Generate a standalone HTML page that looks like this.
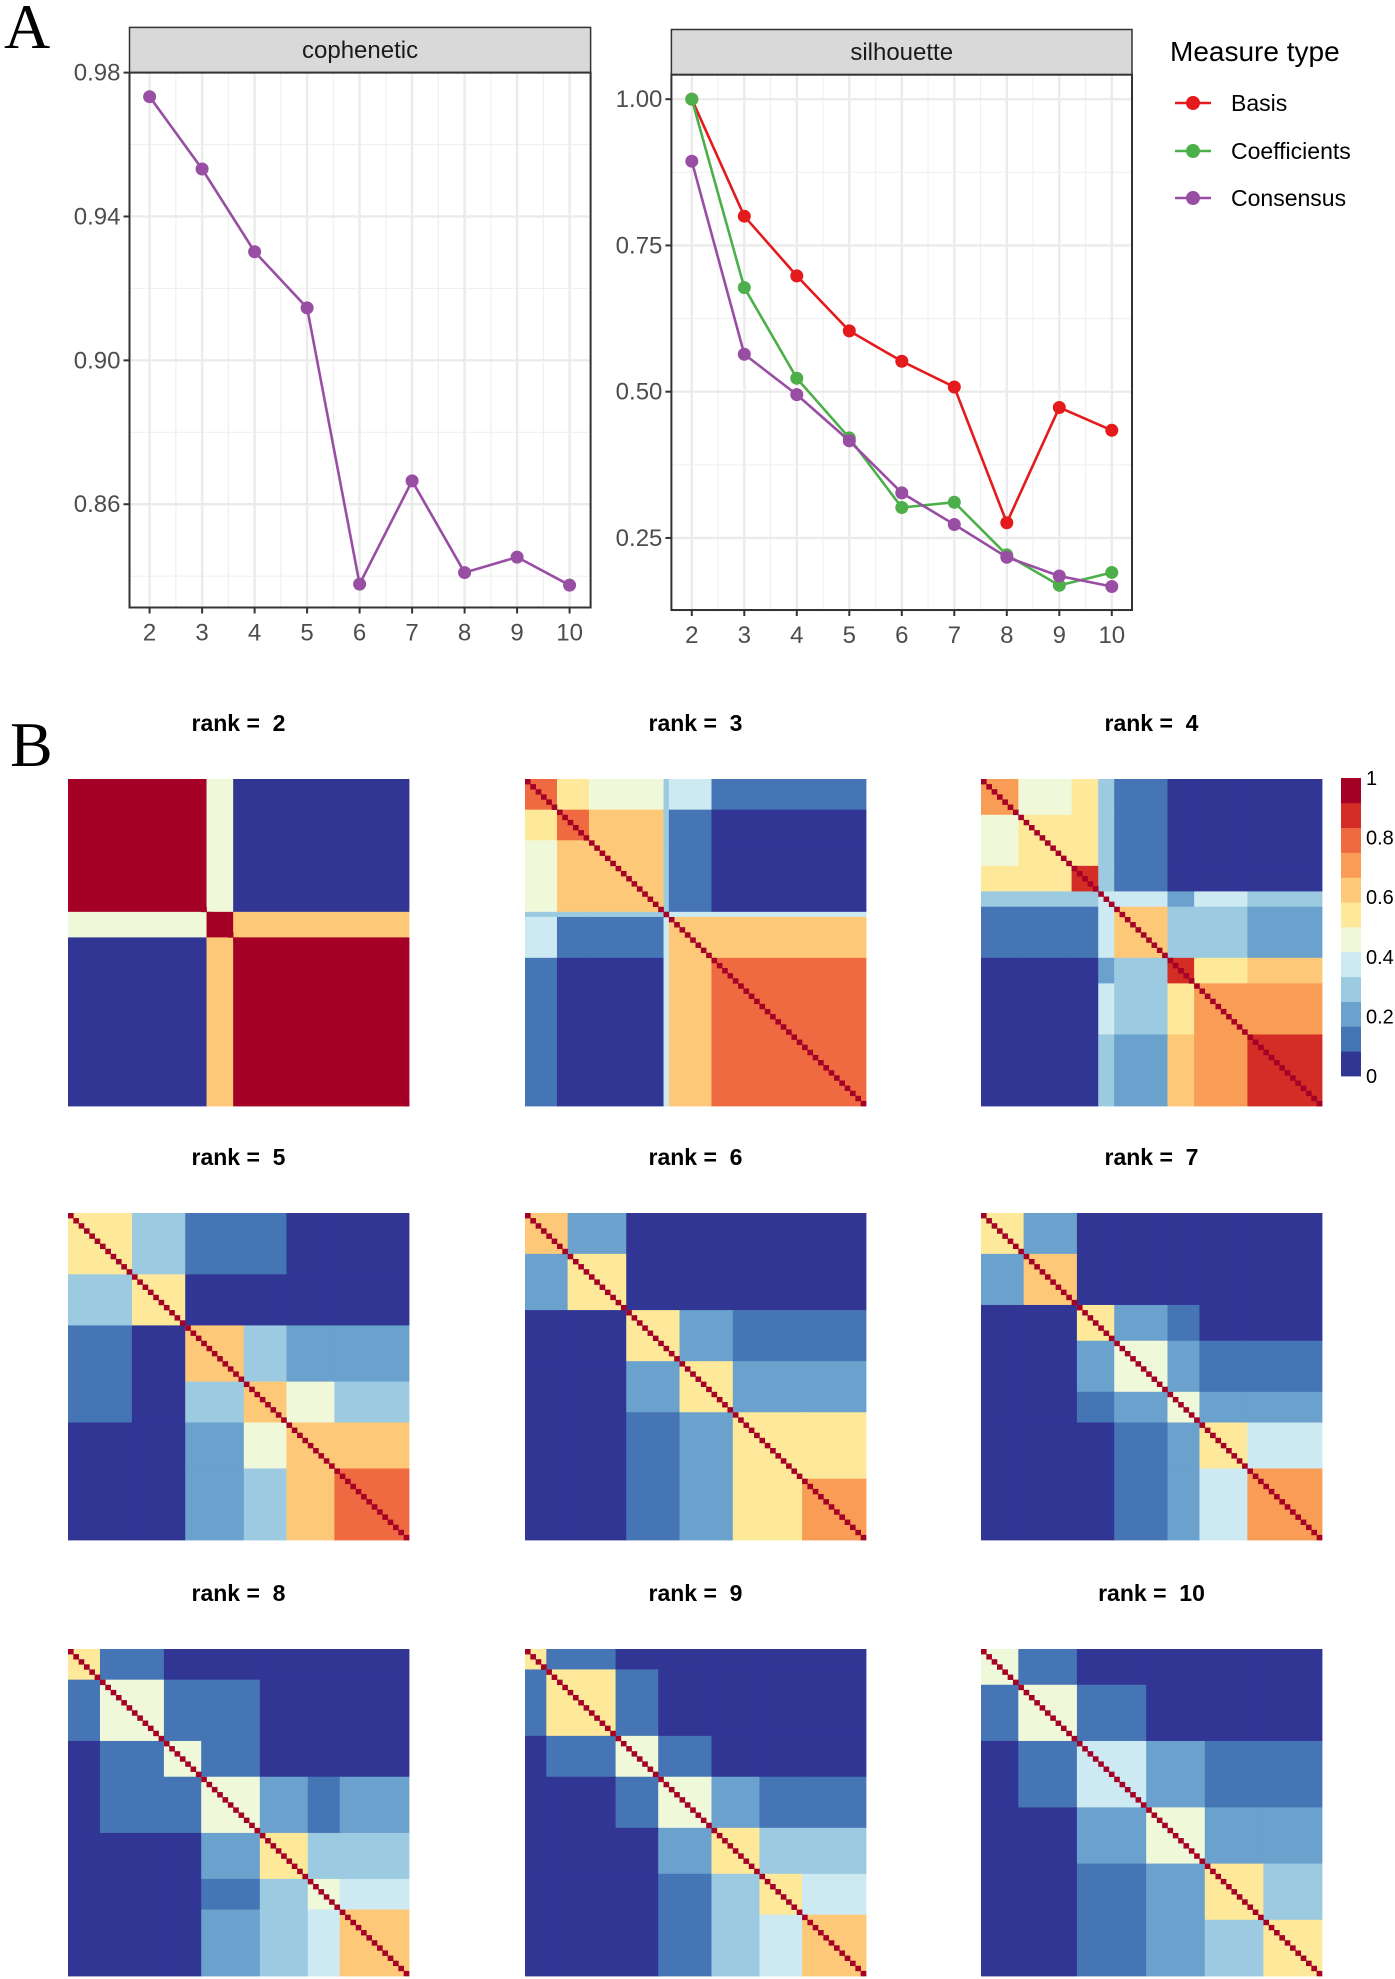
<!DOCTYPE html>
<html><head><meta charset="utf-8"><style>
html,body{margin:0;padding:0;background:#fff;}
svg{display:block;}
text{font-family:"Liberation Sans",sans-serif;}
</style></head><body>
<svg id="fig" width="1395" height="1979" viewBox="0 0 1395 1979" xmlns="http://www.w3.org/2000/svg">
<text x="4" y="48" style="font-family:'Liberation Serif',serif" font-size="64" fill="#000">A</text>
<text x="10" y="766" style="font-family:'Liberation Serif',serif" font-size="64" fill="#000">B</text>
<g id="lines"></g>
<g id="legend">
<text x="1170" y="61" font-size="28" fill="#000">Measure type</text>
</g>
<g id="heat"></g>
<g id="cbar"></g>
</svg>
<script>
const NS="http://www.w3.org/2000/svg";
function mk(tag,attrs,parent){const e=document.createElementNS(NS,tag);for(const k in attrs)e.setAttribute(k,attrs[k]);parent.appendChild(e);return e;}

// ---- line chart data ----
const ranks=[2,3,4,5,6,7,8,9,10];
const cophenetic=[0.9733,0.9532,0.9302,0.9146,0.8378,0.8665,0.8410,0.8453,0.8375];
const basis=[1.000,0.800,0.698,0.604,0.552,0.508,0.276,0.473,0.434];
const coefficients=[1.000,0.678,0.523,0.421,0.302,0.311,0.221,0.169,0.191];
const consensus=[0.894,0.564,0.495,0.416,0.327,0.273,0.217,0.185,0.167];
const copheneticTicks=[0.98,0.94,0.90,0.86];
const copheneticTickLabels=["0.98","0.94","0.90","0.86"];
const silhouetteTicks=[1.00,0.75,0.50,0.25];
const silhouetteTickLabels=["1.00","0.75","0.50","0.25"];
const seriesNames=["Basis","Coefficients","Consensus"];
const seriesColors=["#e41a1c","#4daf4a","#984ea3"];

const L=document.getElementById('lines');
function panel(cfg){
  const {x0,x1,st,pt,pb,title,xs,ys,ticks,tickLabels,minor,name}=cfg;
  const g=mk('g',{},L);
  
  
  mk('rect',{x:x0,y:pt,width:x1-x0,height:pb-pt,fill:'#fff'},g);
  minor.forEach(v=>{mk('line',{x1:x0,x2:x1,y1:ys(v),y2:ys(v),stroke:'#f0f0f0','stroke-width':1.2},g);});
  ranks.forEach((k,i)=>{if(i<ranks.length-1){const xm=(xs(k)+xs(ranks[i+1]))/2;mk('line',{x1:xm,x2:xm,y1:pt,y2:pb,stroke:'#f0f0f0','stroke-width':1.2},g);}});
  ticks.forEach(v=>{mk('line',{x1:x0,x2:x1,y1:ys(v),y2:ys(v),stroke:'#ebebeb','stroke-width':2.4},g);});
  ranks.forEach(k=>{mk('line',{x1:xs(k),x2:xs(k),y1:pt,y2:pb,stroke:'#ebebeb','stroke-width':2.4},g);});
  const s=mk('rect',{x:x0,y:st,width:x1-x0,height:pt-st,fill:'#d9d9d9',stroke:'#333','stroke-width':1.5},g);
  
  
  const t=mk('text',{x:(x0+x1)/2,y:(st+pt)/2+8,'text-anchor':'middle','font-size':24,fill:'#1a1a1a'},g);
  t.textContent=title;
  
  
  mk('rect',{x:x0,y:pt,width:x1-x0,height:pb-pt,fill:'none',stroke:'#333','stroke-width':2},g);
  ticks.forEach((v,i)=>{
    mk('line',{x1:x0-6,x2:x0,y1:ys(v),y2:ys(v),stroke:'#333','stroke-width':2},g);
    const tl=mk('text',{x:x0-9,y:ys(v)+8,'text-anchor':'end','font-size':24,fill:'#4d4d4d'},g);
    tl.textContent=tickLabels[i];
    
    
  });
  ranks.forEach(k=>{
    mk('line',{x1:xs(k),x2:xs(k),y1:pb,y2:pb+6,stroke:'#333','stroke-width':2},g);
    const tl=mk('text',{x:xs(k),y:pb+33,'text-anchor':'middle','font-size':24,fill:'#4d4d4d'},g);
    tl.textContent=String(k);
    
    
  });
  return g;
}
function series(g,xs,ys,vals,color,name){
  const pts=vals.map((v,i)=>xs(ranks[i])+','+ys(v)).join(' ');
  const pl=mk('polyline',{points:pts,fill:'none',stroke:color,'stroke-width':2.6},g);
  
  
  vals.forEach((v,i)=>{
    const c=mk('circle',{cx:xs(ranks[i]),cy:ys(v),r:6.5,fill:color},g);
    
    
  });
}
const cxs=k=>149.6+(k-2)*52.5;
const cys=v=>72.6+(0.98-v)*3597;
const g1=panel({x0:129.5,x1:590.6,st:27.4,pt:72.6,pb:607.5,title:'cophenetic',xs:cxs,ys:cys,ticks:copheneticTicks,tickLabels:copheneticTickLabels,minor:[0.96,0.92,0.88,0.84],name:'cophenetic'});
series(g1,cxs,cys,cophenetic,'#984ea3','cophenetic');
const sxs=k=>691.8+(k-2)*52.5;
const sys=v=>99.2+(1-v)*585;
const g2=panel({x0:671.4,x1:1132,st:29.5,pt:74.7,pb:610,title:'silhouette',xs:sxs,ys:sys,ticks:silhouetteTicks,tickLabels:silhouetteTickLabels,minor:[0.875,0.625,0.375,0.125],name:'silhouette'});
series(g2,sxs,sys,basis,seriesColors[0],'basis');
series(g2,sxs,sys,coefficients,seriesColors[1],'coefficients');
series(g2,sxs,sys,consensus,seriesColors[2],'consensus');
const LG=document.getElementById('legend');
const legendY=[103,151,198];
seriesNames.forEach((n,i)=>{
  const g=mk('g',{},LG);
  
  
  mk('line',{x1:1175,x2:1211,y1:legendY[i],y2:legendY[i],stroke:seriesColors[i],'stroke-width':2.6},g);
  mk('circle',{cx:1193,cy:legendY[i],r:7,fill:seriesColors[i]},g);
  const t=mk('text',{x:1231,y:legendY[i]+8,'font-size':23,fill:'#000'},g);
  t.textContent=n;
});

// ---- heatmap data (cluster block structure, N=64 samples) ----
const heatRanks=[2,3,4,5,6,7,8,9,10];
const sizes2=[26,5,33], within2=[0.97,0.95,0.97], links2=[[0,1,0.45],[1,2,0.65],[0,2,0.04]], base2=0.04;
const sizes3=[6,6,14,1,8,29], within3=[0.78,0.82,0.65,1,0.62,0.8], links3=[[0,1,0.5],[0,2,0.45],[1,2,0.62],[0,3,0.3],[1,3,0.3],[2,3,0.3],[3,4,0.4],[3,5,0.4],[0,4,0.35],[0,5,0.12],[1,4,0.1],[2,4,0.1],[4,5,0.6]], base3=0.04;
const sizes4=[7,10,5,3,10,5,10,14], within4=[0.72,0.55,0.88,0.4,0.65,0.88,0.68,0.85], links4=[[0,1,0.45],[0,2,0.55],[1,2,0.55],[0,3,0.3],[1,3,0.25],[2,3,0.3],[0,4,0.15],[1,4,0.12],[2,4,0.1],[3,4,0.35],[3,5,0.2],[3,6,0.35],[3,7,0.3],[4,5,0.25],[4,6,0.28],[4,7,0.22],[5,6,0.55],[5,7,0.62],[6,7,0.72],[0,6,0.06],[1,6,0.06]], base4=0.04;
const sizes5=[12,10,11,8,9,14], within5=[0.5,0.58,0.6,0.65,0.62,0.78], links5=[[0,1,0.25],[0,2,0.15],[0,3,0.12],[1,2,0.08],[1,3,0.05],[2,3,0.3],[2,4,0.2],[2,5,0.18],[3,4,0.45],[3,5,0.32],[4,5,0.62]], base5=0.04;
const sizes6=[8,11,10,10,13,12], within6=[0.6,0.55,0.55,0.5,0.55,0.68], links6=[[0,1,0.2],[1,2,0.08],[2,3,0.2],[3,4,0.22],[3,5,0.22],[4,5,0.5],[2,4,0.12],[2,5,0.12],[0,2,0.08]], base6=0.04;
const sizes7=[8,10,7,10,6,9,14], within7=[0.55,0.6,0.55,0.45,0.45,0.55,0.7], links7=[[0,1,0.2],[2,3,0.2],[3,4,0.2],[3,5,0.15],[3,6,0.15],[4,5,0.2],[4,6,0.22],[5,6,0.4],[2,4,0.15]], base7=0.04;
const sizes8=[6,12,7,11,9,6,13], within8=[0.5,0.45,0.45,0.45,0.5,0.45,0.62], links8=[[0,1,0.15],[1,2,0.15],[2,3,0.15],[3,4,0.2],[3,5,0.15],[3,6,0.2],[4,5,0.25],[4,6,0.3],[5,6,0.4],[1,3,0.09]], base8=0.04;
const sizes9=[4,13,8,10,9,8,12], within9=[0.5,0.5,0.45,0.45,0.55,0.5,0.6], links9=[[0,1,0.15],[1,2,0.12],[2,3,0.15],[3,4,0.2],[4,5,0.25],[4,6,0.25],[5,6,0.35],[3,6,0.15],[3,5,0.12]], base9=0.04;
const sizes10=[7,11,13,11,11,11], within10=[0.45,0.45,0.4,0.45,0.5,0.55], links10=[[0,1,0.12],[1,2,0.12],[2,3,0.2],[2,4,0.15],[3,4,0.2],[3,5,0.2],[4,5,0.3],[2,5,0.15]], base10=0.04;
const heatSizes=[sizes2,sizes3,sizes4,sizes5,sizes6,sizes7,sizes8,sizes9,sizes10];
const heatWithin=[within2,within3,within4,within5,within6,within7,within8,within9,within10];
const heatLinks=[links2,links3,links4,links5,links6,links7,links8,links9,links10];
const heatBase=[base2,base3,base4,base5,base6,base7,base8,base9,base10];
const cbarTicks=[0,0.2,0.4,0.6,0.8,1];
const cbarTickLabels=["0","0.2","0.4","0.6","0.8","1"];

const palette=['#313695','#4575b4','#6ba1cd','#9ccae1','#cde9f2','#f0f8da','#fee99a','#fdc978','#f99c55','#ef6a40','#d42d26','#a50026'];
const col=v=>palette[Math.max(0,Math.min(11,Math.floor(v*12)))];

const H=document.getElementById('heat');
const colX=[68,525,981], rowY=[779,1213,1649], HW=341, HH=327;
heatRanks.forEach((r,idx)=>{
  const X=colX[idx%3], Y=rowY[Math.floor(idx/3)];
  const g=mk('g',{},H);
  
  
  const t=mk('text',{x:X+HW/2,y:Y-48,'text-anchor':'middle','font-size':23,'font-weight':'bold',fill:'#000'},g);
  t.textContent='rank =\u00a0 '+r;
  
  
  const sz=heatSizes[idx], w=heatWithin[idx], lk=heatLinks[idx], base=heatBase[idx];
  const N=sz.reduce((a,b)=>a+b,0);
  const cw=HW/N, ch=HH/N;
  const M=sz.map((_,i)=>sz.map((_,j)=>i===j?w[i]:base));
  lk.forEach(([a,b,v])=>{M[a][b]=v;M[b][a]=v;});
  const starts=[];let acc=0;sz.forEach(s=>{starts.push(acc);acc+=s;});
  for(let i=0;i<sz.length;i++)for(let j=0;j<sz.length;j++){
    const c=mk('rect',{x:X+starts[j]*cw,y:Y+starts[i]*ch,width:sz[j]*cw+0.4,height:sz[i]*ch+0.4,fill:col(M[i][j])},g);
    
    
  }
  for(let k=0;k<N;k++){
    const d=mk('rect',{x:X+k*cw,y:Y+k*ch,width:cw+0.3,height:ch+0.3,fill:col(1)},g);
    
    
  }
});
const CB=document.getElementById('cbar');
const cbX=1341,cbTop=778,cbBot=1076,cbW=20;
palette.forEach((c,i)=>{
  const bh=(cbBot-cbTop)/palette.length;
  const r=mk('rect',{x:cbX,y:cbBot-(i+1)*bh,width:cbW,height:bh+0.4,fill:c},CB);
  
  
});
cbarTicks.forEach((v,i)=>{
  const t=mk('text',{x:cbX+25,y:cbBot-v*(cbBot-cbTop)+7,'font-size':20,fill:'#000'},CB);
  t.textContent=cbarTickLabels[i];
  
  
});
</script>
</body></html>
